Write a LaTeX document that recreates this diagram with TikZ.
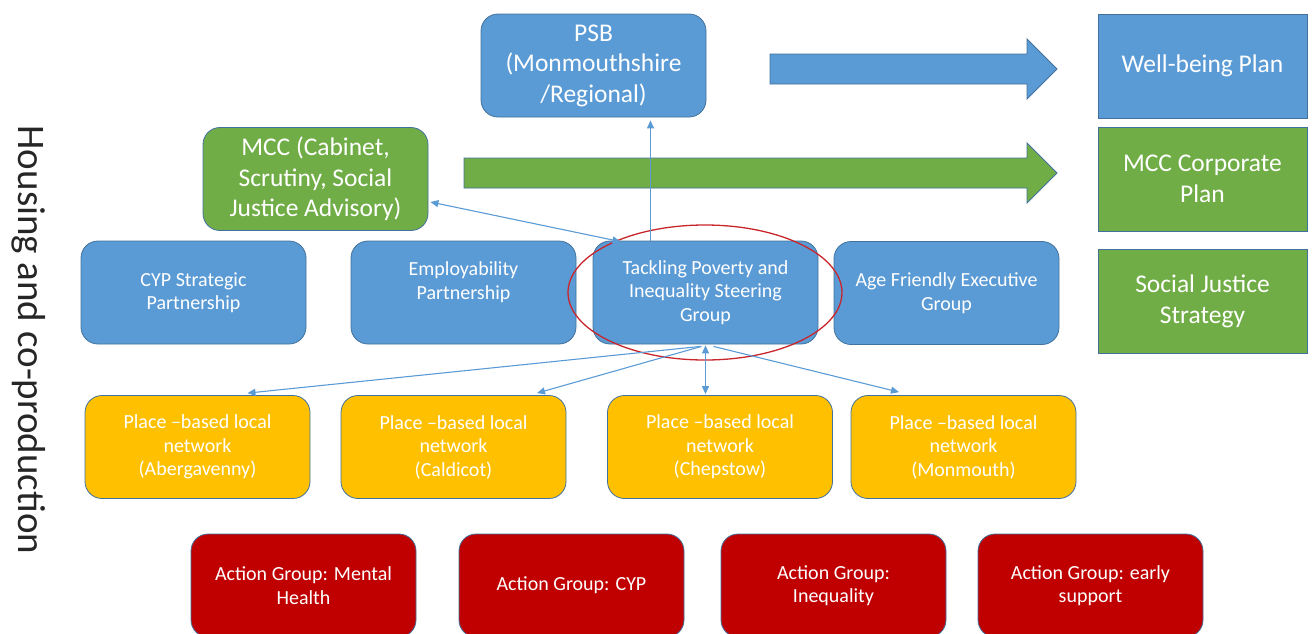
\documentclass[tikz,border=0pt]{standalone}
\usepackage{fontspec}
\setmainfont{Carlito}
\usetikzlibrary{arrows.meta}
\definecolor{bfill}{HTML}{5B9BD5}
\definecolor{gfill}{HTML}{70AD47}
\definecolor{yfill}{HTML}{FFC000}
\definecolor{rfill}{HTML}{C00000}
\definecolor{edge}{HTML}{41719C}
\definecolor{ring}{HTML}{C8262B}
\newcommand{\setfs}[2]{\fontsize{#1}{#2}\selectfont}
\begin{document}
\begin{tikzpicture}[x=1pt,y=-1pt,
  box/.style={draw=edge, line width=0.8pt, rounded corners=17pt, minimum width=225pt,
    minimum height=103pt, inner sep=0pt, align=center, text=white},
  plainbox/.style={draw=edge, line width=0.8pt, minimum width=209pt, minimum height=104pt,
    inner sep=0pt, align=center, text=white, font=\setfs{25.5}{30.5}},
  bigtxt/.style={font=\setfs{25.5}{30.5}},
  smalltxt/.style={font=\setfs{20}{23.5}},
  bluebox/.style={box, fill=bfill},
  greenbox/.style={box, fill=gfill},
  yellowbox/.style={box, fill=yfill, smalltxt},
  redbox/.style={box, fill=rfill, smalltxt},
  link/.style={draw=bfill, line width=1.1pt},
  tip/.style={-{Triangle[length=8pt,width=7pt]}},
  tips/.style={{Triangle[length=8pt,width=7pt]}-{Triangle[length=8pt,width=7pt]}},
  bigarrow/.style={draw=edge, line width=0.8pt}
]
\useasboundingbox (0,0) rectangle (1312,633);
\clip (0,0) rectangle (1312,633);

% side label
\node[rotate=-90, font=\setfs{39}{45}, text=black!85] (side) at (29,340) {Housing and co-production};

% top row
\node[bluebox, bigtxt] (psb) at (593.5,65.5) {PSB\\(Monmouthshire\\/Regional)};
\node[greenbox, bigtxt] (mcc) at (315.5,179) {MCC (Cabinet,\\Scrutiny, Social\\Justice Advisory)};

% right column
\node[plainbox, fill=bfill] (wbp) at (1202.5,66) {Well-being Plan};
\node[plainbox, fill=gfill] (mcp) at (1202.5,179) {MCC Corporate\\Plan};
\node[plainbox, fill=gfill] (sjs) at (1202.5,301.5) {Social Justice\\Strategy};

% big arrows
\fill[bfill] (770,54) -- (1027,54) -- (1027,39) -- (1057,69) -- (1027,99) -- (1027,84) -- (770,84) -- cycle;
\draw[bigarrow] (770,54) -- (1027,54) -- (1027,39) -- (1057,69) -- (1027,99) -- (1027,84) -- (770,84) -- cycle;
\fill[gfill] (464,158) -- (1027,158) -- (1027,143) -- (1057,173) -- (1027,203) -- (1027,188) -- (464,188) -- cycle;
\draw[bigarrow] (464,158) -- (1027,158) -- (1027,143) -- (1057,173) -- (1027,203) -- (1027,188) -- (464,188) -- cycle;

% second row
\node[bluebox, smalltxt] (cyp) at (193.5,292.5) {CYP Strategic\\Partnership};
\node[bluebox, smalltxt] (emp) at (463.5,292.5) {Employability\\Partnership\\~};
\node[bluebox, smalltxt] (tp) at (705.5,292.5) {Tackling Poverty and\\Inequality Steering\\Group};
\node[bluebox, smalltxt] (age) at (946.5,293) {Age Friendly Executive\\Group};

% yellow row
\node[yellowbox] (yab) at (197.5,447) {Place --based local\\network\\(Abergavenny)};
\node[yellowbox] (yca) at (453.5,447) {Place --based local\\network\\(Caldicot)};
\node[yellowbox] (ych) at (720,447) {Place --based local\\network\\(Chepstow)};
\node[yellowbox] (ymo) at (963.5,447) {Place --based local\\network\\(Monmouth)};

% red row
\node[redbox] (rmh) at (303.5,585.5) {Action Group: Mental\\Health};
\node[redbox] (rcy) at (571.5,585.5) {Action Group: CYP};
\node[redbox] (rin) at (833.5,585.5) {Action Group:\\Inequality};
\node[redbox] (rea) at (1090.5,585.5) {Action Group: early\\support};

% highlight ellipse
\draw[ring, line width=1.3pt] (705,292.5) ellipse [x radius=137, y radius=67.5];

% connectors
\draw[link, tip, shorten >=3pt] ([xshift=-55pt]tp.north) -- ([xshift=-55pt]tp.north |- psb.south);
\draw[link, tips] ([xshift=-85pt,yshift=-1pt]tp.north) -- ([xshift=2pt,yshift=-23pt]mcc.east);
\draw[link, tip] ([xshift=-5pt,yshift=-2pt]tp.south) -- ([xshift=50pt,yshift=2pt]yab.north);
\draw[link, tip] ([xshift=-4pt,yshift=-2pt]tp.south) -- ([xshift=83.5pt,yshift=2pt]yca.north);
\draw[link, tips] ([yshift=-1pt]tp.south) -- ([yshift=1pt]tp.south |- ych.north);
\draw[link, tip] ([xshift=8pt,yshift=-2pt]tp.south) -- ([xshift=-64.5pt,yshift=3pt]ymo.north);
\end{tikzpicture}
\end{document}
